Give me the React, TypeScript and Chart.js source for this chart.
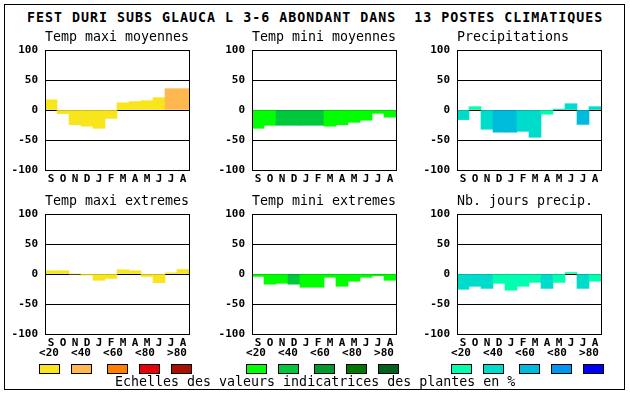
import React, { useEffect, useRef } from 'react';
import { Chart, registerables } from 'chart.js';

Chart.register(...registerables);

const mainTitle = 'FEST DURI SUBS GLAUCA L 3-6 ABONDANT DANS  13 POSTES CLIMATIQUES';
const footerText = 'Echelles des valeurs indicatrices des plantes en %';
const months = ['S', 'O', 'N', 'D', 'J', 'F', 'M', 'A', 'M', 'J', 'J', 'A'];
const yTickValues = [-100, -50, 0, 50, 100];
const classLabels = ['<20', '<40', '<60', '<80', '>80'];

// Temp maxi moyennes
const tmaxMoy = [17, -6, -24.5, -27, -30.5, -14, 12, 14, 15.5, 20.5, 35.5, 35.5];
const tmaxMoyCls = [0, 0, 0, 0, 0, 0, 0, 0, 0, 0, 1, 1];
// Temp mini moyennes
const tminMoy = [-30.5, -25.5, -25.5, -25.5, -25.5, -25.5, -27, -24.5, -20.5, -17, -5.6, -12];
const tminMoyCls = [0, 0, 1, 1, 1, 1, 0, 0, 0, 0, 0, 0];
// Precipitations
const precip = [-16, 5.5, -32, -37, -37, -35.5, -45.5, -7, 1.5, 10.5, -24, 5.5];
const precipCls = [1, 0, 1, 2, 2, 1, 1, 0, 1, 1, 2, 1];
// Temp maxi extremes
const tmaxExt = [5.5, 5.5, 0, -2, -10.5, -7.5, 7, 5.5, -4, -14.5, 2, 7.5];
const tmaxExtCls = [0, 0, 0, 0, 0, 0, 0, 0, 0, 0, 0, 0];
// Temp mini extremes
const tminExt = [-4, -17, -15.5, -17, -22, -22, -5.5, -20.5, -12, -5.5, -3, -10.5];
const tminExtCls = [0, 0, 0, 1, 0, 0, 0, 0, 0, 0, 0, 0];
// Nb. jours precip.
const nbJours = [-25.5, -20.5, -24, -15.5, -27, -20.5, -14, -24, -14, 2.5, -24, -12];
const nbJoursCls = [1, 1, 1, 0, 0, 0, 0, 1, 0, 0, 1, 0];

const tempMaxColors = ['#f9e51c', '#ffb850', '#ff7f00', '#e60008', '#aa1000'];
const tempMinColors = ['#00ff00', '#00c83c', '#00992d', '#007800', '#006020'];
const precipColors = ['#00ffb0', '#00dccc', '#00bcdc', '#0096f0', '#0000f8'];

const FONT = '"DejaVu Sans Mono", monospace';

const plotBox = {
  id: 'plotBox',
  afterDraw(chart: any) {
    const { ctx, chartArea: a } = chart;
    ctx.save();
    ctx.strokeStyle = '#000';
    ctx.lineWidth = 1;
    ctx.strokeRect(a.left + 0.5, a.top + 0.5, a.right - a.left, a.bottom - a.top);
    ctx.restore();
  },
};

type PanelProps = {
  left: number;
  top: number;
  title: string;
  values: number[];
  classes: number[];
  colors: string[];
};

function Panel({ left, top, title, values, classes, colors }: PanelProps) {
  const ref = useRef<HTMLCanvasElement | null>(null);
  useEffect(() => {
    const chart = new Chart(ref.current as HTMLCanvasElement, {
      type: 'bar',
      data: {
        labels: months,
        datasets: [
          {
            data: values,
            backgroundColor: classes.map((c) => colors[c]),
            borderWidth: 0,
            barPercentage: 1,
            categoryPercentage: 1,
          },
        ],
      },
      options: {
        animation: false,
        responsive: false,
        devicePixelRatio: 1,
        layout: { padding: { left: 0, right: 6, top: 0, bottom: 0 } },
        plugins: {
          legend: { display: false },
          tooltip: { enabled: false },
          title: {
            display: true,
            text: title,
            align: 'start',
            fullSize: false,
            color: '#000',
            font: { family: FONT, size: 13.3, weight: 'normal', lineHeight: '16px' },
            padding: { top: 6, bottom: 4 },
          },
        },
        scales: {
          x: {
            type: 'category',
            offset: true,
            grid: { display: false, drawTicks: false, tickLength: 0 },
            border: { display: false },
            ticks: {
              color: '#000',
              font: { family: FONT, size: 11, weight: 'bold' },
              padding: 3,
              maxRotation: 0,
              minRotation: 0,
              autoSkip: false,
            },
            afterFit: (s: any) => {
              s.height = 20;
            },
          },
          y: {
            min: -100,
            max: 100,
            z: 1,
            grid: { color: '#000', lineWidth: 1, drawTicks: false, tickLength: 0 },
            border: { display: false },
            ticks: {
              color: '#000',
              font: { family: FONT, size: 11, weight: 'bold' },
              padding: 7,
            },
            afterBuildTicks: (s: any) => {
              s.ticks = yTickValues.map((v) => ({ value: v }));
            },
            afterFit: (s: any) => {
              s.width = 45;
            },
          },
        },
      } as any,
      plugins: [plotBox],
    });
    return () => chart.destroy();
  }, []);
  return (
    <canvas
      ref={ref}
      width={195}
      height={166}
      style={{ position: 'absolute', left: left - 45, top: top - 26, width: 195, height: 166 }}
    />
  );
}

function ClassLegend({ plotLeft, colors }: { plotLeft: number; colors: string[] }) {
  const labelOffsets = [0, 32, 64, 96, 128];
  const boxOffsets = [0, 32, 68, 100, 132];
  return (
    <>
      {classLabels.map((lab, i) => (
        <div
          key={'l' + i}
          style={{
            position: 'absolute',
            left: plotLeft - 6 + 10 + labelOffsets[i] - 15,
            width: 30,
            top: 347,
            textAlign: 'center',
            font: `bold 11px ${FONT}`,
            lineHeight: '12px',
            color: '#000',
          }}
        >
          {lab}
        </div>
      ))}
      {colors.map((c, i) => (
        <div
          key={'b' + i}
          style={{
            position: 'absolute',
            left: plotLeft - 6 + boxOffsets[i],
            top: 364,
            width: 21,
            height: 10,
            boxSizing: 'border-box',
            border: '1px solid #000',
            background: c,
          }}
        />
      ))}
    </>
  );
}

export default function App() {
  const colLefts = [45, 252, 457];
  const rowTops = [50, 214];
  return (
    <div
      style={{
        position: 'absolute',
        left: 0,
        top: 0,
        width: 630,
        height: 394,
        background: '#fff',
        overflow: 'hidden',
      }}
    >
      <div
        style={{
          position: 'absolute',
          left: 4,
          top: 4,
          width: 621,
          height: 386,
          boxSizing: 'border-box',
          border: '1px solid #000',
        }}
      />
      <div
        style={{
          position: 'absolute',
          left: 27,
          top: 10,
          whiteSpace: 'pre',
          font: `bold 13.3px ${FONT}`,
          lineHeight: '16px',
          letterSpacing: '1.0px',
          color: '#000',
        }}
      >
        {mainTitle}
      </div>
      <Panel left={colLefts[0]} top={rowTops[0]} title="Temp maxi moyennes" values={tmaxMoy} classes={tmaxMoyCls} colors={tempMaxColors} />
      <Panel left={colLefts[1]} top={rowTops[0]} title="Temp mini moyennes" values={tminMoy} classes={tminMoyCls} colors={tempMinColors} />
      <Panel left={colLefts[2]} top={rowTops[0]} title="Precipitations" values={precip} classes={precipCls} colors={precipColors} />
      <Panel left={colLefts[0]} top={rowTops[1]} title="Temp maxi extremes" values={tmaxExt} classes={tmaxExtCls} colors={tempMaxColors} />
      <Panel left={colLefts[1]} top={rowTops[1]} title="Temp mini extremes" values={tminExt} classes={tminExtCls} colors={tempMinColors} />
      <Panel left={colLefts[2]} top={rowTops[1]} title="Nb. jours precip." values={nbJours} classes={nbJoursCls} colors={precipColors} />
      <ClassLegend plotLeft={colLefts[0]} colors={tempMaxColors} />
      <ClassLegend plotLeft={colLefts[1]} colors={tempMinColors} />
      <ClassLegend plotLeft={colLefts[2]} colors={precipColors} />
      <div
        style={{
          position: 'absolute',
          left: 115,
          top: 374,
          whiteSpace: 'pre',
          font: `13.3px ${FONT}`,
          lineHeight: '16px',
          color: '#000',
        }}
      >
        {footerText}
      </div>
    </div>
  );
}
